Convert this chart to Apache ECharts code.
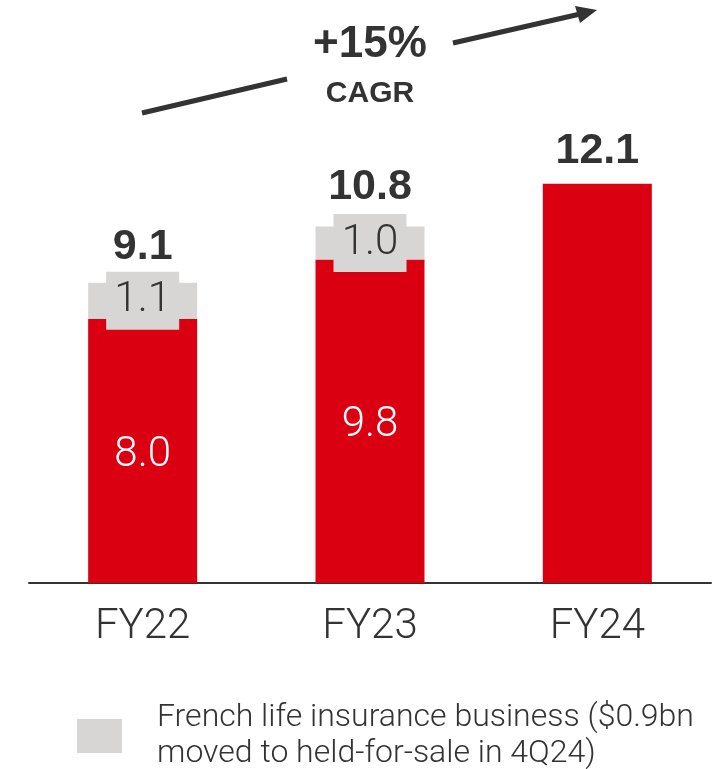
<!DOCTYPE html>
<html>
<head>
<meta charset="utf-8">
<script src="https://cdn.jsdelivr.net/npm/echarts@6/dist/echarts.min.js"></script>
<style>
  html, body { margin: 0; padding: 0; background: #fff; }
  #main { width: 720px; height: 769px; }
</style>
</head>
<body>
<div id="main"></div>
<script>
// values in $bn
const categories = ["FY22", "FY23", "FY24"];
const coreValues = [8.0, 9.8, 12.1];
const frenchValues = [1.1, 1.0, null];
const totals = [9.1, 10.8, 12.1];
const totalGaps = [14, 17, 11];

const RED = "#DB0011";
const GREY = "#D7D6D5";
const INK = "#333333";
const LIGHT = "Roboto";

var myChart = echarts.init(document.getElementById("main"), null, { renderer: "canvas" });

const option = {
  animation: false,
  backgroundColor: "#fff",
  grid: { left: 29, right: 9, top: 121, bottom: 186 },
  xAxis: {
    type: "category",
    data: categories,
    axisLine: { lineStyle: { color: INK, width: 2 } },
    axisTick: { show: false },
    axisLabel: {
      color: INK,
      fontFamily: LIGHT,
      fontWeight: 300,
      fontSize: 42,
      lineHeight: 42,
      margin: 23
    }
  },
  yAxis: { type: "value", min: 0, max: 14, show: false },
  legend: {
    data: ["French"],
    left: 77,
    top: 700,
    padding: 0,
    icon: "rect",
    itemWidth: 45,
    itemHeight: 34,
    formatter: function () {
      return "French life insurance business ($0.9bn\nmoved to held-for-sale in 4Q24)";
    },
    textStyle: {
      color: INK,
      fontFamily: LIGHT,
      fontWeight: 300,
      fontSize: 32,
      lineHeight: 36,
      padding: [0, 0, 0, 30]
    }
  },
  graphic: [
    {
      type: "line",
      shape: { x1: 142, y1: 113, x2: 287, y2: 79 },
      style: { stroke: INK, lineWidth: 5 }
    },
    {
      type: "line",
      shape: { x1: 453, y1: 43, x2: 578, y2: 14.5 },
      style: { stroke: INK, lineWidth: 5 }
    },
    {
      type: "polygon",
      shape: { points: [[597, 10], [580, 23], [575, 6]] },
      style: { fill: INK }
    },
    {
      type: "text",
      x: 370, y: 45,
      style: {
        text: "+15%", fill: INK, font: "bold 44px 'Liberation Sans', Arial",
        textAlign: "center", textVerticalAlign: "middle"
      }
    },
    {
      type: "text",
      x: 370, y: 94,
      style: {
        text: "CAGR", fill: INK, font: "bold 30px 'Liberation Sans', Arial",
        textAlign: "center", textVerticalAlign: "middle"
      }
    }
  ],
  series: [
    {
      name: "Core",
      type: "bar",
      stack: "total",
      barWidth: 109,
      itemStyle: { color: RED },
      label: {
        show: true,
        position: "inside",
        offset: [0, 4],
        color: "#fff",
        fontFamily: LIGHT,
        fontWeight: 300,
        fontSize: 42,
        formatter: (p) => p.value.toFixed(1)
      },
      data: coreValues.map((v, i) => ({
        value: v,
        label: { show: frenchValues[i] != null }
      }))
    },
    {
      name: "French",
      type: "bar",
      stack: "total",
      barWidth: 109,
      itemStyle: { color: GREY },
      label: {
        show: true,
        position: "inside",
        color: INK,
        fontFamily: LIGHT,
        fontWeight: 300,
        fontSize: 42,
        backgroundColor: GREY,
        width: 73,
        height: 58,
        lineHeight: 58,
        align: "center",
        verticalAlign: "middle",
        formatter: (p) => p.value.toFixed(1)
      },
      data: frenchValues
    },
    {
      name: "Total",
      type: "scatter",
      symbolSize: 0,
      silent: true,
      itemStyle: { opacity: 1 },
      label: {
        show: true,
        position: "top",
        color: INK,
        fontFamily: "'Liberation Sans', Arial",
        fontWeight: "bold",
        fontSize: 43,
        lineHeight: 44,
        formatter: (p) => p.value.toFixed(1)
      },
      data: totals.map((v, i) => ({ value: v, label: { distance: totalGaps[i] } }))
    }
  ]
};

myChart.setOption(option);
</script>
</body>
</html>
